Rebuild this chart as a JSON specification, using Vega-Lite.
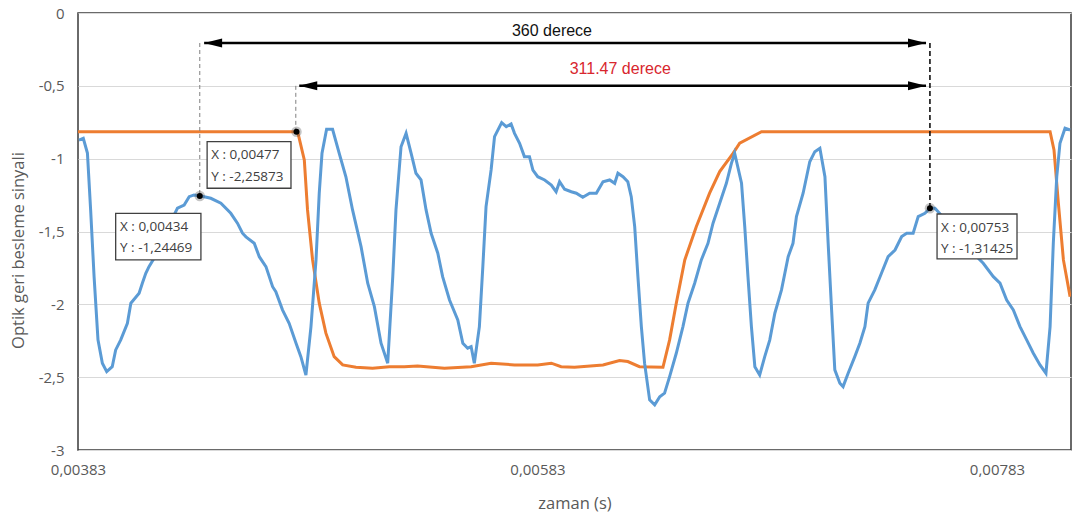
{
  "$schema": "https://vega.github.io/schema/vega-lite/v6.json",
  "width": 993,
  "height": 437,
  "autosize": "none",
  "padding": {"left": 78, "top": 13, "right": 2, "bottom": 65},
  "background": "white",
  "config": {
    "view": {"stroke": "#3a3a3a", "strokeWidth": 1.5},
    "font": "Open Sans"
  },
  "datasets": {
    "blue": [
      {"t":0.003834,"v":-0.872},{"t":0.003853,"v":-0.860},{"t":0.003871,"v":-0.961},{"t":0.003885,"v":-1.352},{"t":0.003900,"v":-1.810},{"t":0.003917,"v":-2.244},{"t":0.003936,"v":-2.404},{"t":0.003955,"v":-2.462},{"t":0.003979,"v":-2.428},{"t":0.003994,"v":-2.313},{"t":0.004016,"v":-2.244},{"t":0.004045,"v":-2.130},{"t":0.004060,"v":-1.992},{"t":0.004096,"v":-1.924},{"t":0.004110,"v":-1.855},{"t":0.004125,"v":-1.787},{"t":0.004139,"v":-1.741},{"t":0.004183,"v":-1.627},{"t":0.004227,"v":-1.455},{"t":0.004263,"v":-1.340},{"t":0.004292,"v":-1.318},{"t":0.004314,"v":-1.261},{"t":0.004335,"v":-1.249},{"t":0.004365,"v":-1.256},{"t":0.004408,"v":-1.272},{"t":0.004452,"v":-1.306},{"t":0.004495,"v":-1.375},{"t":0.004524,"v":-1.443},{"t":0.004546,"v":-1.512},{"t":0.004561,"v":-1.537},{"t":0.004597,"v":-1.581},{"t":0.004619,"v":-1.673},{"t":0.004648,"v":-1.741},{"t":0.004677,"v":-1.879},{"t":0.004691,"v":-1.913},{"t":0.004720,"v":-2.038},{"t":0.004749,"v":-2.130},{"t":0.004779,"v":-2.267},{"t":0.004800,"v":-2.359},{"t":0.004822,"v":-2.485},{"t":0.004844,"v":-2.153},{"t":0.004866,"v":-1.695},{"t":0.004880,"v":-1.237},{"t":0.004892,"v":-0.963},{"t":0.004912,"v":-0.798},{"t":0.004938,"v":-0.798},{"t":0.004967,"v":-0.963},{"t":0.004996,"v":-1.124},{"t":0.005025,"v":-1.352},{"t":0.005062,"v":-1.604},{"t":0.005091,"v":-1.855},{"t":0.005120,"v":-2.016},{"t":0.005149,"v":-2.267},{"t":0.005178,"v":-2.404},{"t":0.005200,"v":-1.810},{"t":0.005214,"v":-1.352},{"t":0.005236,"v":-0.918},{"t":0.005258,"v":-0.826},{"t":0.005280,"v":-0.963},{"t":0.005301,"v":-1.100},{"t":0.005323,"v":-1.146},{"t":0.005345,"v":-1.352},{"t":0.005367,"v":-1.512},{"t":0.005396,"v":-1.649},{"t":0.005417,"v":-1.810},{"t":0.005447,"v":-1.970},{"t":0.005483,"v":-2.107},{"t":0.005505,"v":-2.267},{"t":0.005526,"v":-2.301},{"t":0.005541,"v":-2.290},{"t":0.005555,"v":-2.404},{"t":0.005577,"v":-2.153},{"t":0.005592,"v":-1.741},{"t":0.005606,"v":-1.329},{"t":0.005628,"v":-1.078},{"t":0.005643,"v":-0.849},{"t":0.005674,"v":-0.753},{"t":0.005694,"v":-0.780},{"t":0.005715,"v":-0.762},{"t":0.005730,"v":-0.826},{"t":0.005752,"v":-0.894},{"t":0.005773,"v":-0.986},{"t":0.005795,"v":-0.986},{"t":0.005810,"v":-1.078},{"t":0.005831,"v":-1.124},{"t":0.005861,"v":-1.146},{"t":0.005890,"v":-1.181},{"t":0.005911,"v":-1.227},{"t":0.005926,"v":-1.158},{"t":0.005948,"v":-1.210},{"t":0.005977,"v":-1.227},{"t":0.005999,"v":-1.237},{"t":0.006027,"v":-1.265},{"t":0.006057,"v":-1.237},{"t":0.006086,"v":-1.237},{"t":0.006115,"v":-1.158},{"t":0.006144,"v":-1.146},{"t":0.006166,"v":-1.169},{"t":0.006180,"v":-1.100},{"t":0.006202,"v":-1.124},{"t":0.006223,"v":-1.158},{"t":0.006238,"v":-1.261},{"t":0.006253,"v":-1.467},{"t":0.006267,"v":-1.810},{"t":0.006282,"v":-2.153},{"t":0.006296,"v":-2.404},{"t":0.006318,"v":-2.656},{"t":0.006340,"v":-2.690},{"t":0.006362,"v":-2.634},{"t":0.006383,"v":-2.610},{"t":0.006405,"v":-2.496},{"t":0.006434,"v":-2.336},{"t":0.006463,"v":-2.153},{"t":0.006485,"v":-1.992},{"t":0.006514,"v":-1.855},{"t":0.006543,"v":-1.695},{"t":0.006572,"v":-1.581},{"t":0.006594,"v":-1.443},{"t":0.006623,"v":-1.306},{"t":0.006652,"v":-1.169},{"t":0.006674,"v":-1.032},{"t":0.006688,"v":-0.963},{"t":0.006718,"v":-1.169},{"t":0.006732,"v":-1.467},{"t":0.006746,"v":-1.810},{"t":0.006761,"v":-2.153},{"t":0.006776,"v":-2.428},{"t":0.006797,"v":-2.485},{"t":0.006819,"v":-2.359},{"t":0.006841,"v":-2.244},{"t":0.006863,"v":-2.061},{"t":0.006892,"v":-1.901},{"t":0.006921,"v":-1.673},{"t":0.006942,"v":-1.581},{"t":0.006957,"v":-1.398},{"t":0.006986,"v":-1.237},{"t":0.007015,"v":-1.021},{"t":0.007037,"v":-0.952},{"t":0.007059,"v":-0.929},{"t":0.007081,"v":-1.124},{"t":0.007095,"v":-1.581},{"t":0.007110,"v":-2.038},{"t":0.007124,"v":-2.450},{"t":0.007146,"v":-2.542},{"t":0.007160,"v":-2.565},{"t":0.007182,"v":-2.473},{"t":0.007211,"v":-2.359},{"t":0.007233,"v":-2.267},{"t":0.007255,"v":-2.153},{"t":0.007269,"v":-1.992},{"t":0.007298,"v":-1.901},{"t":0.007327,"v":-1.787},{"t":0.007356,"v":-1.673},{"t":0.007386,"v":-1.627},{"t":0.007415,"v":-1.535},{"t":0.007437,"v":-1.512},{"t":0.007465,"v":-1.512},{"t":0.007487,"v":-1.398},{"t":0.007516,"v":-1.375},{"t":0.007538,"v":-1.340},{"t":0.007560,"v":-1.340},{"t":0.007625,"v":-1.455},{"t":0.007691,"v":-1.592},{"t":0.007770,"v":-1.718},{"t":0.007814,"v":-1.810},{"t":0.007843,"v":-1.855},{"t":0.007872,"v":-1.970},{"t":0.007901,"v":-2.038},{"t":0.007930,"v":-2.153},{"t":0.007959,"v":-2.244},{"t":0.007988,"v":-2.336},{"t":0.008017,"v":-2.416},{"t":0.008043,"v":-2.473},{"t":0.008061,"v":-2.153},{"t":0.008075,"v":-1.581},{"t":0.008090,"v":-1.124},{"t":0.008104,"v":-0.894},{"t":0.008126,"v":-0.791},{"t":0.008148,"v":-0.803}
    ],
    "orange": [
      {"t":0.00383,"v":-0.815},{"t":0.004786,"v":-0.815},{"t":0.004815,"v":-1.009},{"t":0.004829,"v":-1.352},{"t":0.004851,"v":-1.695},{"t":0.004880,"v":-1.992},{"t":0.004909,"v":-2.198},{"t":0.004945,"v":-2.359},{"t":0.004982,"v":-2.416},{"t":0.005040,"v":-2.432},{"t":0.005112,"v":-2.439},{"t":0.005185,"v":-2.428},{"t":0.005250,"v":-2.428},{"t":0.005308,"v":-2.423},{"t":0.005425,"v":-2.439},{"t":0.005541,"v":-2.428},{"t":0.005628,"v":-2.404},{"t":0.005730,"v":-2.416},{"t":0.005831,"v":-2.416},{"t":0.005890,"v":-2.404},{"t":0.005933,"v":-2.428},{"t":0.005991,"v":-2.432},{"t":0.006115,"v":-2.416},{"t":0.006187,"v":-2.386},{"t":0.006223,"v":-2.393},{"t":0.006274,"v":-2.428},{"t":0.006376,"v":-2.432},{"t":0.006405,"v":-2.244},{"t":0.006434,"v":-1.992},{"t":0.006471,"v":-1.695},{"t":0.006521,"v":-1.467},{"t":0.006579,"v":-1.237},{"t":0.006623,"v":-1.089},{"t":0.006681,"v":-0.963},{"t":0.006710,"v":-0.894},{"t":0.006805,"v":-0.815},{"t":0.008061,"v":-0.815},{"t":0.008078,"v":-0.940},{"t":0.008097,"v":-1.306},{"t":0.008119,"v":-1.695},{"t":0.008148,"v":-1.947}
    ],
    "arrows": [
      {"x1":0.004379,"x2":0.007521,"y":-0.206},
      {"x1":0.004793,"x2":0.007521,"y":-0.5}
    ],
    "guides": [
      {"x":0.004360,"y1":-0.206,"y2":-1.256,"k":"light"},
      {"x":0.004778,"y1":-0.5,"y2":-0.815,"k":"light"},
      {"x":0.007538,"y1":-0.206,"y2":-1.340,"k":"dark"}
    ],
    "markers": [
      {"x":0.004360,"y":-1.256},
      {"x":0.004781,"y":-0.815},
      {"x":0.007538,"y":-1.340}
    ],
    "boxes": [
      {"x1":0.003994,"x2":0.004365,"y1":-1.375,"y2":-1.695,"tx":0.004013,"ty1":-1.469,"ty2":-1.613,"l1":"X : 0,00434","l2":"Y : -1,24469"},
      {"x1":0.004392,"x2":0.004757,"y1":-0.883,"y2":-1.203,"tx":0.004410,"ty1":-0.975,"ty2":-1.126,"l1":"X : 0,00477","l2":"Y : -2,25873"},
      {"x1":0.007569,"x2":0.007917,"y1":-1.380,"y2":-1.688,"tx":0.007586,"ty1":-1.476,"ty2":-1.620,"l1":"X : 0,00753","l2":"Y : -1,31425"}
    ],
    "titles": [
      {"x":0.005893,"y":-0.124,"label":"360 derece","k":"black"},
      {"x":0.006190,"y":-0.384,"label":"311.47 derece","k":"red"}
    ]
  },
  "layer": [
    {
      "data": {"name": "orange"},
      "mark": {"type": "line", "color": "#ed7d31", "strokeWidth": 3, "clip": true},
      "encoding": {
        "x": {"field": "t", "type": "quantitative",
          "scale": {"domain": [0.00383, 0.008152], "nice": false, "zero": false},
          "axis": {"values": [0.00383, 0.00583, 0.00783], "labelExpr": "replace(format(datum.value, '.5f'), '.', ',')",
            "title": "zaman (s)", "grid": false, "domain": false, "ticks": false,
            "labelFontSize": 15, "labelColor": "#595959", "labelPadding": 12, "labelFlush": false,
            "titleFontSize": 16.5, "titleFontWeight": "normal", "titleColor": "#595959", "titleBaseline": "middle", "titleY": 53}},
        "y": {"field": "v", "type": "quantitative",
          "scale": {"domain": [-3, 0], "nice": false, "zero": false},
          "axis": {"values": [0, -0.5, -1, -1.5, -2, -2.5, -3],
            "labelExpr": "(datum.value < 0 ? '-' : '') + replace(abs(datum.value) + '', '.', ',')",
            "title": "Optik geri besleme sinyali", "grid": true, "gridColor": "#d9d9d9", "gridWidth": 1,
            "domain": false, "ticks": false, "labelFontSize": 15, "labelColor": "#595959", "labelPadding": 14,
            "titleFontSize": 16.5, "titleFontWeight": "normal", "titleColor": "#595959",
            "titleAngle": -90, "titleAlign": "center", "titleBaseline": "middle", "titleX": -60, "titleY": 237}}
      }
    },
    {
      "data": {"name": "blue"},
      "mark": {"type": "line", "color": "#5b9bd5", "strokeWidth": 3, "clip": true},
      "encoding": {
        "x": {"field": "t", "type": "quantitative"},
        "y": {"field": "v", "type": "quantitative"}
      }
    },
    {
      "data": {"name": "boxes"},
      "mark": {"type": "rect", "fill": "white", "stroke": "#404040", "strokeWidth": 1.3},
      "encoding": {
        "x": {"field": "x1", "type": "quantitative"},
        "x2": {"field": "x2"},
        "y": {"field": "y1", "type": "quantitative"},
        "y2": {"field": "y2"}
      }
    },
    {
      "data": {"name": "boxes"},
      "mark": {"type": "text", "align": "left", "baseline": "middle", "fontSize": 13.5, "color": "#404040", "font": "Open Sans"},
      "encoding": {
        "x": {"field": "tx", "type": "quantitative"},
        "y": {"field": "ty1", "type": "quantitative"},
        "text": {"field": "l1"}
      }
    },
    {
      "data": {"name": "boxes"},
      "mark": {"type": "text", "align": "left", "baseline": "middle", "fontSize": 13.5, "color": "#404040", "font": "Open Sans"},
      "encoding": {
        "x": {"field": "tx", "type": "quantitative"},
        "y": {"field": "ty2", "type": "quantitative"},
        "text": {"field": "l2"}
      }
    },
    {
      "data": {"name": "guides"},
      "transform": [{"filter": "datum.k == 'light'"}],
      "mark": {"type": "rule", "color": "#7f7f7f", "strokeWidth": 1, "strokeDash": [4, 3]},
      "encoding": {
        "x": {"field": "x", "type": "quantitative"},
        "y": {"field": "y1", "type": "quantitative"},
        "y2": {"field": "y2"}
      }
    },
    {
      "data": {"name": "guides"},
      "transform": [{"filter": "datum.k == 'dark'"}],
      "mark": {"type": "rule", "color": "#111111", "strokeWidth": 1.6, "strokeDash": [5, 3]},
      "encoding": {
        "x": {"field": "x", "type": "quantitative"},
        "y": {"field": "y1", "type": "quantitative"},
        "y2": {"field": "y2"}
      }
    },
    {
      "data": {"name": "arrows"},
      "mark": {"type": "rule", "color": "#000000", "strokeWidth": 2.5},
      "encoding": {
        "x": {"field": "x1", "type": "quantitative"},
        "x2": {"field": "x2"},
        "y": {"field": "y", "type": "quantitative"}
      }
    },
    {
      "data": {"name": "arrows"},
      "mark": {"type": "point", "shape": "M0,0L2,-0.5L2,0.5Z", "size": 324, "filled": true, "color": "#000000", "opacity": 1},
      "encoding": {
        "x": {"field": "x1", "type": "quantitative"},
        "y": {"field": "y", "type": "quantitative"}
      }
    },
    {
      "data": {"name": "arrows"},
      "mark": {"type": "point", "shape": "M0,0L-2,-0.5L-2,0.5Z", "size": 324, "filled": true, "color": "#000000", "opacity": 1},
      "encoding": {
        "x": {"field": "x2", "type": "quantitative"},
        "y": {"field": "y", "type": "quantitative"}
      }
    },
    {
      "data": {"name": "markers"},
      "mark": {"type": "point", "shape": "circle", "size": 110, "filled": true, "color": "#555555", "opacity": 0.35},
      "encoding": {
        "x": {"field": "x", "type": "quantitative"},
        "y": {"field": "y", "type": "quantitative"}
      }
    },
    {
      "data": {"name": "markers"},
      "mark": {"type": "point", "shape": "circle", "size": 36, "filled": true, "color": "#000000", "opacity": 1},
      "encoding": {
        "x": {"field": "x", "type": "quantitative"},
        "y": {"field": "y", "type": "quantitative"}
      }
    },
    {
      "data": {"name": "titles"},
      "transform": [{"filter": "datum.k == 'black'"}],
      "mark": {"type": "text", "align": "center", "baseline": "middle", "fontSize": 16, "color": "#111111", "font": "Liberation Sans"},
      "encoding": {
        "x": {"field": "x", "type": "quantitative"},
        "y": {"field": "y", "type": "quantitative"},
        "text": {"field": "label"}
      }
    },
    {
      "data": {"name": "titles"},
      "transform": [{"filter": "datum.k == 'red'"}],
      "mark": {"type": "text", "align": "center", "baseline": "middle", "fontSize": 16, "color": "#d8262e", "font": "Liberation Sans"},
      "encoding": {
        "x": {"field": "x", "type": "quantitative"},
        "y": {"field": "y", "type": "quantitative"},
        "text": {"field": "label"}
      }
    }
  ]
}
